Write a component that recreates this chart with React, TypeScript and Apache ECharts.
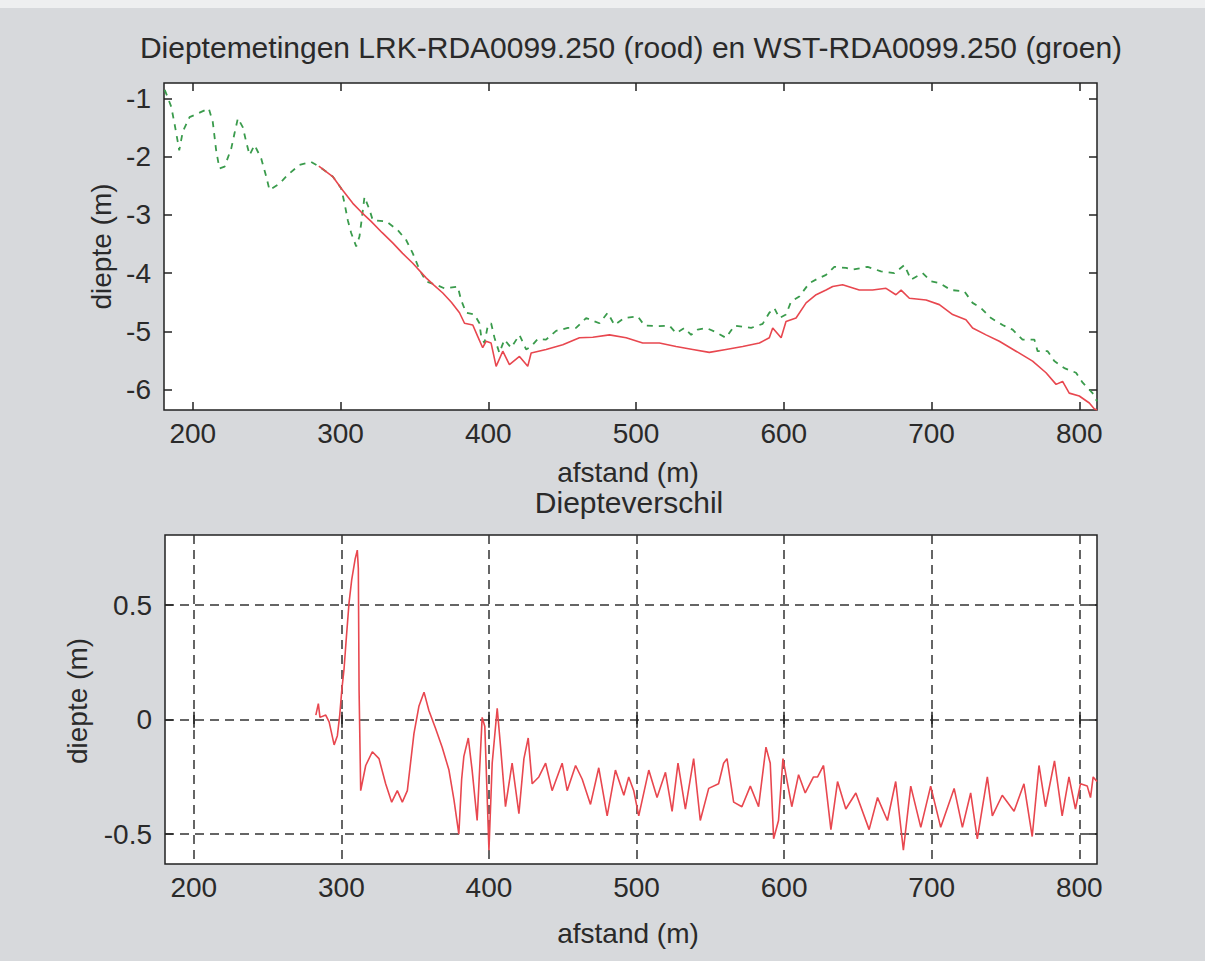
import React, { useEffect, useRef } from "react";
import * as echarts from "echarts";

// ---- data ----
const xTicks = [200, 300, 400, 500, 600, 700, 800];
const topYTicks = [-6, -5, -4, -3, -2, -1];
const bottomYTicks = [-0.5, 0, 0.5];

const titleText = "Dieptemetingen LRK-RDA0099.250 (rood) en WST-RDA0099.250 (groen)";
const subTitleText = "Diepteverschil";
const xName = "afstand (m)";
const yName = "diepte (m)";

// WST (groen) depth profile
const greenX = [181, 185.4, 187.6, 189.8, 190.8, 193.2, 197.8, 201.5, 205.7, 210.8, 213.5, 215.8, 218, 221.5, 226, 228.2, 230.5, 233.8, 236.1, 238.4, 241.8, 246.3, 249.7, 251.9, 258.7, 264.3, 272.2, 280.1, 285.7, 294.7, 300.4, 302.7, 304.9, 307.2, 310.6, 312.8, 314, 316.2, 319.6, 321.8, 330.9, 338.7, 344.4, 348.9, 353.4, 357.9, 364.7, 370.3, 379.3, 381.6, 385, 390.6, 394, 395.2, 397.4, 399.6, 401.9, 404.2, 407.5, 410.9, 415.4, 421.1, 425.6, 429, 433.5, 439.1, 445.9, 453.8, 459.4, 466.2, 475.2, 480.8, 485.4, 492.1, 501.1, 505.7, 514.7, 522.6, 527.1, 532.7, 537.3, 541.7, 547.4, 553, 560.9, 566.6, 577.9, 585.7, 590.2, 593.6, 597, 601.5, 604.9, 610.5, 617.3, 624.1, 628.6, 634.2, 642.1, 646.6, 656.8, 665.8, 674.8, 681.6, 686.1, 694, 699.7, 705.3, 713.2, 722.2, 727.8, 733.5, 740.3, 748.1, 754.9, 761.6, 769.6, 771.8, 778.6, 783.1, 789.9, 797.8, 802.3, 809, 812];
const greenY = [-0.85, -1.14, -1.43, -1.74, -1.89, -1.57, -1.32, -1.28, -1.23, -1.17, -1.4, -1.89, -2.2, -2.17, -1.86, -1.6, -1.34, -1.49, -1.74, -1.97, -1.8, -2.03, -2.34, -2.57, -2.46, -2.31, -2.14, -2.09, -2.17, -2.34, -2.54, -2.8, -3.09, -3.31, -3.54, -3.37, -3.14, -2.69, -2.91, -3.09, -3.11, -3.26, -3.43, -3.66, -3.94, -4.14, -4.2, -4.26, -4.23, -4.46, -4.68, -4.71, -4.86, -5.09, -5.2, -4.91, -4.86, -5.11, -5.37, -5.14, -5.28, -5.06, -5.31, -5.26, -5.13, -5.14, -4.99, -4.94, -4.94, -4.77, -4.86, -4.68, -4.89, -4.77, -4.74, -4.9, -4.91, -4.9, -5.03, -4.94, -5.06, -4.97, -4.94, -5.0, -5.11, -4.9, -4.94, -4.87, -4.68, -4.6, -4.77, -4.71, -4.49, -4.4, -4.17, -4.08, -4.03, -3.89, -3.91, -3.94, -3.89, -3.97, -4.0, -3.86, -4.11, -4.0, -4.14, -4.17, -4.29, -4.31, -4.51, -4.6, -4.77, -4.89, -4.97, -5.14, -5.14, -5.34, -5.34, -5.51, -5.63, -5.71, -5.88, -6.06, -6.2];

// LRK (rood) depth profile
const redX = [285.3, 294.7, 300.4, 308.3, 314, 320.7, 328, 335.3, 342, 348.9, 357.9, 363, 369.2, 375, 380.5, 383.9, 389.5, 392.9, 396.2, 398.5, 401.9, 405.3, 409.8, 414.3, 421.1, 426.7, 429, 439.1, 450.4, 461.7, 470.7, 482, 493.3, 504.5, 515.8, 527.1, 538.4, 549.6, 560.9, 572.2, 583.5, 590.2, 592.5, 598.2, 601.5, 608.3, 615.1, 621.9, 628.6, 633.1, 639.8, 651.1, 660.1, 669.2, 675.9, 679.4, 685, 696.3, 705.3, 714.3, 723.3, 727.8, 736.9, 745.9, 757.2, 768.4, 777.5, 784.3, 788.7, 793.2, 800, 806.8, 810.1, 812];
const redY = [-2.16, -2.34, -2.54, -2.8, -2.95, -3.11, -3.3, -3.48, -3.66, -3.83, -4.08, -4.2, -4.34, -4.5, -4.68, -4.86, -4.89, -5.09, -5.28, -5.17, -5.2, -5.6, -5.34, -5.57, -5.43, -5.6, -5.37, -5.31, -5.23, -5.11, -5.1, -5.06, -5.11, -5.2, -5.2, -5.26, -5.31, -5.36, -5.31, -5.26, -5.2, -5.11, -4.94, -5.11, -4.83, -4.77, -4.51, -4.37, -4.29, -4.23, -4.2, -4.29, -4.29, -4.26, -4.37, -4.29, -4.43, -4.46, -4.54, -4.71, -4.8, -4.94, -5.06, -5.17, -5.34, -5.51, -5.71, -5.91, -5.86, -6.06, -6.11, -6.23, -6.33, -6.35];

// Diepteverschil
const diffX = [282.7, 284.4, 285.5, 289.4, 291.7, 295.1, 297.3, 298.9, 300.3, 301.8, 303.4, 305.2, 307, 309.3, 310.8, 311.5, 312, 313.1, 316.5, 321, 325.5, 330, 334.1, 337.9, 341.3, 344.7, 349.2, 352.6, 356, 359.3, 363.9, 368.3, 372.9, 376.3, 379.6, 381.5, 383, 386, 388.6, 392, 395.4, 397.2, 400, 402.2, 405.6, 407.9, 411.2, 415.7, 420.3, 423.7, 426.6, 429.3, 433.8, 438.4, 442.8, 449.6, 453, 458.7, 463.2, 468.8, 474.4, 480.1, 485.7, 491.4, 494.7, 498.1, 501.5, 508.3, 513.9, 519.6, 524.1, 528.1, 533.1, 538.7, 543.2, 548.9, 555.6, 559, 561.3, 565.8, 571.4, 577.1, 582.7, 587.7, 590.6, 592.9, 596.2, 599.2, 605.2, 609.8, 614.3, 619.9, 622.7, 626.7, 631.7, 636.2, 641.8, 648.6, 657.6, 663.3, 670, 675.6, 680.8, 685.8, 692.6, 699.3, 706.1, 715.2, 720.8, 726.4, 730.9, 737.7, 741.1, 747.8, 755.8, 762.5, 768.1, 772.7, 777.1, 783.2, 788.4, 793, 797.4, 800.8, 805.4, 807.6, 809.4, 812];
const diffY = [0.02, 0.07, 0.01, 0.02, -0.01, -0.11, -0.07, 0.02, 0.13, 0.22, 0.36, 0.51, 0.61, 0.7, 0.74, 0.66, 0.13, -0.31, -0.2, -0.14, -0.17, -0.28, -0.36, -0.31, -0.36, -0.31, -0.06, 0.06, 0.12, 0.04, -0.04, -0.12, -0.22, -0.35, -0.5, -0.26, -0.16, -0.08, -0.22, -0.44, 0.01, -0.03, -0.57, -0.19, 0.05, -0.12, -0.38, -0.19, -0.41, -0.17, -0.08, -0.28, -0.25, -0.19, -0.31, -0.19, -0.31, -0.2, -0.26, -0.37, -0.21, -0.42, -0.22, -0.33, -0.25, -0.31, -0.42, -0.22, -0.34, -0.23, -0.4, -0.19, -0.39, -0.17, -0.44, -0.3, -0.28, -0.19, -0.17, -0.36, -0.38, -0.29, -0.38, -0.12, -0.19, -0.52, -0.44, -0.17, -0.38, -0.24, -0.32, -0.25, -0.25, -0.2, -0.48, -0.27, -0.39, -0.32, -0.48, -0.34, -0.44, -0.27, -0.57, -0.29, -0.47, -0.29, -0.47, -0.3, -0.47, -0.32, -0.52, -0.25, -0.42, -0.33, -0.4, -0.28, -0.51, -0.2, -0.38, -0.18, -0.42, -0.25, -0.39, -0.28, -0.29, -0.34, -0.25, -0.27];

const zip = (xs: number[], ys: number[]) => xs.map((x, i) => [x, ys[i]]);

const FONT = "'Liberation Sans', Arial, sans-serif";
const TEXT = "#2a2a2a";
const AXIS = "#222222";

export default function App() {
  const ref = useRef<HTMLDivElement>(null);

  useEffect(() => {
    if (!ref.current) return;
    const chart = echarts.init(ref.current, undefined, { renderer: "svg" });

    const tick = (inside = true) => ({
      show: true,
      inside,
      length: 8,
      lineStyle: { color: AXIS, width: 1.5 },
    });

    const xBase = (gridIndex: number, position: "bottom" | "top", showLabel: boolean, split: boolean) => ({
      type: "value" as const,
      gridIndex,
      position,
      min: 180.5,
      max: 812,
      axisLine: { show: false },
      axisTick: { ...tick(), customValues: xTicks },
      axisLabel: {
        show: showLabel,
        customValues: xTicks,
        fontSize: 28,
        fontFamily: FONT,
        color: TEXT,
        margin: 9,
      },
      splitLine: split
        ? { show: true, lineStyle: { color: "#333", type: [9, 6], width: 1.5 } }
        : { show: false },
    });

    const yBase = (
      gridIndex: number,
      position: "left" | "right",
      min: number,
      max: number,
      ticks: number[],
      showLabel: boolean,
      split: boolean
    ) => ({
      type: "value" as const,
      gridIndex,
      position,
      min,
      max,
      axisLine: { show: false },
      axisTick: { ...tick(), customValues: ticks },
      axisLabel: {
        show: showLabel,
        customValues: ticks,
        fontSize: 28,
        fontFamily: FONT,
        color: TEXT,
        margin: 13,
      },
      splitLine: split
        ? { show: true, lineStyle: { color: "#333", type: [9, 6], width: 1.5 } }
        : { show: false },
    });

    const textStyle = (size: number) => ({ fontSize: size, fontFamily: FONT, fill: TEXT });

    chart.setOption({
      animation: false,
      backgroundColor: "#d7d9dc",
      grid: [
        { left: 164, top: 83, width: 933, height: 327, show: true, backgroundColor: "#ffffff", borderColor: AXIS, borderWidth: 1.5 },
        { left: 165, top: 535, width: 932, height: 329, show: true, backgroundColor: "#ffffff", borderColor: AXIS, borderWidth: 1.5 },
      ],
      xAxis: [
        xBase(0, "bottom", true, false),
        xBase(0, "top", false, false),
        xBase(1, "bottom", true, true),
        xBase(1, "top", false, false),
      ],
      yAxis: [
        yBase(0, "left", -6.35, -0.733, topYTicks, true, false),
        yBase(0, "right", -6.35, -0.733, topYTicks, false, false),
        yBase(1, "left", -0.63, 0.806, bottomYTicks, true, true),
        yBase(1, "right", -0.63, 0.806, bottomYTicks, false, false),
      ],
      series: [
        {
          type: "line",
          name: "WST",
          xAxisIndex: 0,
          yAxisIndex: 0,
          data: zip(greenX, greenY),
          showSymbol: false,
          clip: true,
          lineStyle: { color: "#3a9b4c", width: 1.8, type: [6, 6] },
          z: 3,
        },
        {
          type: "line",
          name: "LRK",
          xAxisIndex: 0,
          yAxisIndex: 0,
          data: zip(redX, redY),
          showSymbol: false,
          clip: true,
          lineStyle: { color: "#e8474f", width: 1.6 },
          z: 4,
        },
        {
          type: "line",
          name: "verschil",
          xAxisIndex: 2,
          yAxisIndex: 2,
          data: zip(diffX, diffY),
          showSymbol: false,
          clip: true,
          lineStyle: { color: "#e8474f", width: 1.6 },
          z: 4,
        },
      ],
      graphic: [
        { type: "rect", shape: { x: 0, y: 0, width: 1205, height: 8 }, style: { fill: "#eeeff0" }, z: -1 },
        { type: "text", x: 631, y: 47.5, style: { text: titleText, ...textStyle(30), textAlign: "center", textVerticalAlign: "middle" } },
        { type: "text", x: 628, y: 472, style: { text: xName, ...textStyle(28), textAlign: "center", textVerticalAlign: "middle" } },
        { type: "text", x: 629, y: 502, style: { text: subTitleText, ...textStyle(30), textAlign: "center", textVerticalAlign: "middle" } },
        { type: "text", x: 628, y: 933, style: { text: xName, ...textStyle(28), textAlign: "center", textVerticalAlign: "middle" } },
        { type: "text", x: 101, y: 246.5, rotation: Math.PI / 2, style: { text: yName, ...textStyle(28), textAlign: "center", textVerticalAlign: "middle" } },
        { type: "text", x: 77, y: 701, rotation: Math.PI / 2, style: { text: yName, ...textStyle(28), textAlign: "center", textVerticalAlign: "middle" } },
      ],
    });

    return () => chart.dispose();
  }, []);

  return <div ref={ref} style={{ position: "absolute", left: 0, top: 0, width: 1205, height: 961 }} />;
}
